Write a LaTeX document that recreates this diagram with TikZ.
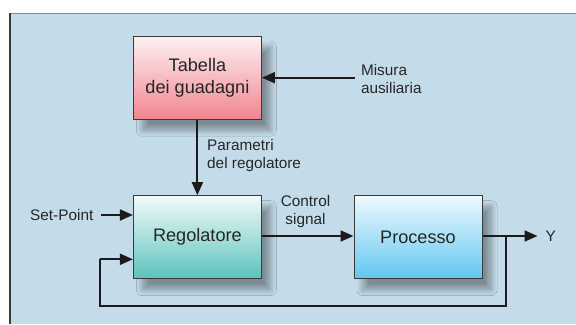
\documentclass[tikz,border=0pt]{standalone}
\usepackage{fontspec}
\setmainfont{Liberation Sans}
\usetikzlibrary{arrows.meta,shadows.blur,shadings}

\definecolor{panel}{HTML}{C4DCE9}
\definecolor{frameedge}{HTML}{3A3A3A}
\definecolor{topedge}{HTML}{8A8A8A}
\definecolor{inktext}{HTML}{262626}
\definecolor{wire}{HTML}{1E1A1C}
\definecolor{pinktop}{HTML}{FCF1F3}
\definecolor{pinkbot}{HTML}{F1858F}
\definecolor{tealtop}{HTML}{F3FAF9}
\definecolor{tealbot}{HTML}{5CC3BD}
\definecolor{skytop}{HTML}{EFF9FE}
\definecolor{skybot}{HTML}{60C7F1}

\tikzset{
  block/.style={draw=frameedge, line width=1bp, minimum width=128bp,
    minimum height=83bp, align=center, text=inktext, inner sep=0pt,
    font=\fontsize{18.2}{21.6}\selectfont,
    blur shadow={shadow xshift=9bp, shadow yshift=-11bp,
      shadow blur radius=6bp, shadow blur steps=12, shadow opacity=36}},
  label/.style={align=left, text=inktext, inner sep=0pt,
    font=\fontsize{15.4}{17.6}\selectfont},
  signal/.style={draw=wire, line width=2bp,
    -{Triangle[length=13bp,width=11bp]}},
  plainwire/.style={draw=wire, line width=2bp}
}

\begin{document}
\begin{tikzpicture}[x=1bp,y=-1bp]
  \useasboundingbox (0,0) rectangle (576,324);

  % panel
  \fill[panel] (10,13.3) rectangle (576,324);
  \draw[topedge, line width=1.6bp] (10,13.3) -- (576,13.3);
  \draw[frameedge, line width=1.6bp] (10,13.3) -- (10,324);

  % blocks
  \node[block, top color=pinktop, bottom color=pinkbot] (gain)
    at (197.4,77.7) {Tabella\\dei guadagni};
  \node[block, top color=tealtop, bottom color=tealbot] (ctrl)
    at (197.4,237.2) {Regolatore};
  \node[block, top color=skytop, bottom color=skybot] (proc)
    at (418,237.2) {Processo};

  % labels
  \node[label, anchor=west] (aux) at (360.8,78.8) {Misura\\ausiliaria};
  \node[label, anchor=west] (par) at (207,155.5) {Parametri\\del regolatore};
  \node[label, anchor=east] (sp) at (93.5,215) {Set-Point};
  \node[label, align=center] (cs) at (305.5,211.7) {Control\\signal};
  \node[label, anchor=west] (y) at (545.5,236) {Y};

  % auxiliary points
  \coordinate (auxin) at (354.8,77.7);
  \coordinate (spin) at (101,215);
  \coordinate (yout) at (537.5,236);
  \coordinate (tap) at (505.5,236);
  \coordinate (fbdown) at (505.5,306);
  \coordinate (fbleft) at (100.4,306);
  \coordinate (fbup) at (100.4,259.3);

  % connectors
  \draw[signal] (auxin) -- (gain.east |- auxin);
  \draw[signal] (gain.south) -- (ctrl.north);
  \draw[signal] (spin) -- (ctrl.west |- spin);
  \draw[signal] (ctrl.east |- tap) -- (proc.west |- tap);
  \draw[signal] (proc.east |- tap) -- (yout);
  \draw[plainwire] (tap) -- (fbdown) -- (fbleft) -- (fbup);
  \draw[signal] (fbup) -- (ctrl.west |- fbup);
\end{tikzpicture}
\end{document}
